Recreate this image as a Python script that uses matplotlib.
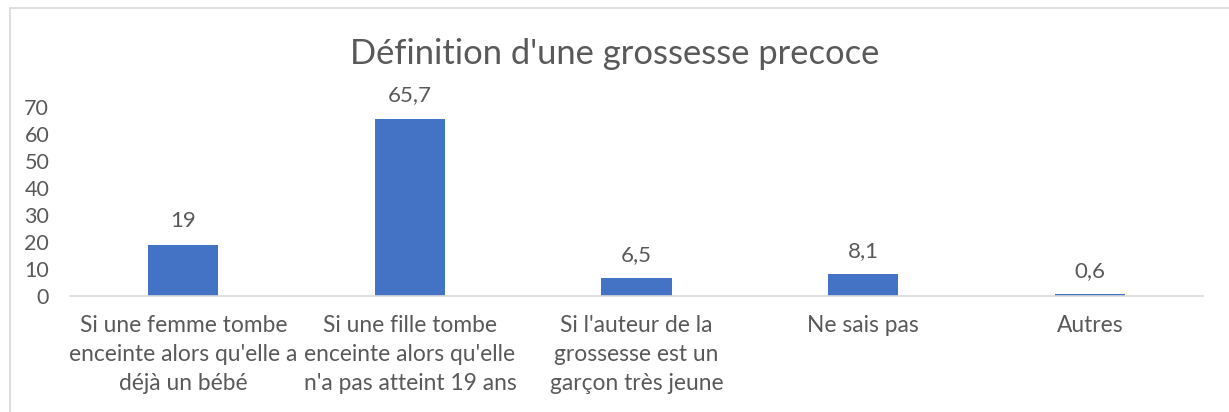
import matplotlib.pyplot as plt
from matplotlib.patches import Rectangle

# Data
categories = [
    "Si une femme tombe\nenceinte alors qu'elle a\ndéjà un bébé",
    "Si une fille tombe\nenceinte alors qu'elle\nn'a pas atteint 19 ans",
    "Si l'auteur de la\ngrossesse est un\ngarçon très jeune",
    "Ne sais pas",
    "Autres",
]
values = [19, 65.7, 6.5, 8.1, 0.6]
value_labels = ["19", "65,7", "6,5", "8,1", "0,6"]
yticks = [0, 10, 20, 30, 40, 50, 60, 70]

plt.rcParams['font.family'] = ['Lato', 'DejaVu Sans']
text_color = '#595959'

fig = plt.figure(figsize=(12.29, 4.12), dpi=100)
ax = fig.add_axes([0.057, 0.2816, 0.922, 0.4588])

x = range(len(values))
bars = ax.bar(x, values, width=0.31, color='#4472c4')

for xi, v, lab in zip(x, values, value_labels):
    ax.text(xi, v + 5, lab, ha='center', va='bottom', fontsize=16, color=text_color)

ax.set_xlim(-0.5, 4.5)
ax.set_ylim(0, 70)
ax.set_yticks(yticks)
ax.set_yticklabels([str(t) for t in yticks], fontsize=15.5, color=text_color)
ax.set_xticks(list(x))
ax.set_xticklabels(categories, fontsize=16.4, color=text_color, linespacing=1.45)
ax.tick_params(length=0)
ax.tick_params(axis='x', pad=14)
ax.tick_params(axis='y', pad=15)

for side in ['top', 'right', 'left']:
    ax.spines[side].set_visible(False)
ax.spines['bottom'].set_color('#d9d9d9')
ax.spines['bottom'].set_linewidth(1.2)

fig.text(0.5, 0.868, "Définition d'une grossesse precoce", ha='center', va='center',
         fontsize=24.8, color=text_color)

# Chart border
fig.patches.append(Rectangle((10 / 1229, -0.1), 1.2, 1.1 - 8 / 412, transform=fig.transFigure,
                             fill=False, edgecolor='#d9d9d9', linewidth=1.2))

plt.savefig('out.png', dpi=100)
